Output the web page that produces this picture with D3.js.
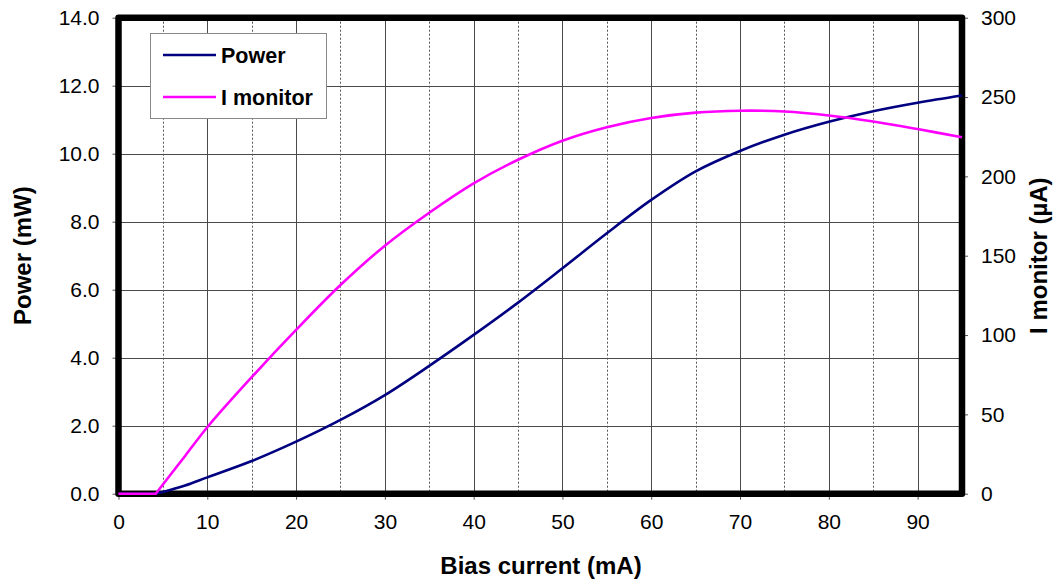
<!DOCTYPE html>
<html>
<head>
<meta charset="utf-8">
<script src="https://cdn.jsdelivr.net/npm/d3@7"></script>
<style>
  html, body { margin: 0; padding: 0; background: #fff; }
  svg { display: block; font-family: "Liberation Sans", Arial, Helvetica, sans-serif; }
</style>
</head>
<body>
<svg id="chart" width="1055" height="583"></svg>
<script>
// Bias current sweep (mA) with optical power (mW) and monitor photodiode current (µA)
const biasCurrent = [0, 4.2, 5, 7.5, 10, 15, 20, 25, 30, 35, 40, 45, 50, 55, 60, 65, 70, 75, 80, 85, 90, 95];
const power       = [0, 0, 0.05, 0.24, 0.48, 0.96, 1.53, 2.17, 2.90, 3.76, 4.67, 5.62, 6.63, 7.66, 8.64, 9.48, 10.08, 10.56, 10.94, 11.25, 11.50, 11.71];
const iMonitor    = [0, 0, 5.8, 23.8, 41.9, 73.4, 103.2, 131.5, 156.3, 177.1, 195.6, 210.5, 222.5, 231.0, 236.8, 240.2, 241.4, 240.9, 238.4, 234.6, 229.8, 224.6];
const thresholdIndex = 1; // output is zero up to the lasing threshold

const xTicks = [0, 10, 20, 30, 40, 50, 60, 70, 80, 90];
const xMinorTicks = [5, 15, 25, 35, 45, 55, 65, 75, 85];
const powerTicks = [0, 2, 4, 6, 8, 10, 12, 14];
const monitorTicks = [0, 50, 100, 150, 200, 250, 300];

const seriesNames = ["Power", "I monitor"];
const seriesColors = ["#000080", "#ff00ff"];

const svg = d3.select("#chart");
const plotLeft = 118.5, plotRight = 962, plotTop = 17.7, plotBottom = 493.7;

const x = d3.scaleLinear().domain([0, 95]).range([plotLeft, plotRight]);
const yP = d3.scaleLinear().domain([0, 14]).range([plotBottom, plotTop]);
const yI = d3.scaleLinear().domain([0, 300]).range([plotBottom, plotTop]);

// grid
const grid = svg.append("g");
grid.selectAll("line.h").data(powerTicks.slice(1, -1)).join("line")
  .attr("x1", plotLeft).attr("x2", plotRight)
  .attr("y1", d => Math.round(yP(d)) + 0.5).attr("y2", d => Math.round(yP(d)) + 0.5)
  .attr("stroke", "#4a4a4a").attr("stroke-width", 1);
grid.selectAll("line.v").data(xTicks.slice(1)).join("line")
  .attr("y1", plotTop).attr("y2", plotBottom)
  .attr("x1", d => Math.round(x(d)) + 0.5).attr("x2", d => Math.round(x(d)) + 0.5)
  .attr("stroke", "#4a4a4a").attr("stroke-width", 1);
grid.selectAll("line.vm").data(xMinorTicks).join("line")
  .attr("y1", plotTop).attr("y2", plotBottom)
  .attr("x1", d => Math.round(x(d)) + 0.5).attr("x2", d => Math.round(x(d)) + 0.5)
  .attr("stroke", "#555").attr("stroke-width", 1).attr("stroke-dasharray", "2,2");

// axes
const tickStyle = g => {
  g.select(".domain").remove();
  g.selectAll(".tick line").attr("stroke", "#555");
  g.selectAll(".tick text").attr("fill", "#000").attr("font-size", 21)
    .attr("font-family", "Liberation Sans, Arial, sans-serif");
};
svg.append("g").attr("transform", `translate(0,${plotBottom})`)
  .call(d3.axisBottom(x).tickValues(xTicks).tickFormat(d3.format("d")).tickSize(6).tickPadding(14))
  .call(tickStyle);
svg.append("g").attr("transform", `translate(${plotLeft},0)`)
  .call(d3.axisLeft(yP).tickValues(powerTicks).tickFormat(d3.format(".1f")).tickSize(6).tickPadding(13))
  .call(tickStyle);
svg.append("g").attr("transform", `translate(${plotRight},0)`)
  .call(d3.axisRight(yI).tickValues(monitorTicks).tickFormat(d3.format("d")).tickSize(6).tickPadding(13))
  .call(tickStyle);

// plot frame
svg.append("rect")
  .attr("x", plotLeft).attr("y", plotTop).attr("width", plotRight - plotLeft).attr("height", plotBottom - plotTop)
  .attr("fill", "none").attr("stroke", "#000").attr("stroke-width", 6.5).attr("stroke-linejoin", "round");

// series: straight run below threshold, smooth curve above it
function drawSeries(ys, yScale, color) {
  const pts = ys.map((v, i) => [x(biasCurrent[i]), yScale(v)]);
  const below = d3.line().curve(d3.curveLinear)(pts.slice(0, thresholdIndex + 1));
  const above = d3.line().curve(d3.curveCatmullRom.alpha(0.5))(pts.slice(thresholdIndex));
  svg.append("path").attr("d", below + above.replace(/^M[^LC]*/, ""))
    .attr("fill", "none").attr("stroke", color).attr("stroke-width", 2.6)
    .attr("stroke-linejoin", "round");
}
drawSeries(power, yP, seriesColors[0]);
drawSeries(iMonitor, yI, seriesColors[1]);

// axis titles
svg.append("text").attr("x", 541).attr("y", 574).attr("text-anchor", "middle")
  .attr("font-size", 24).attr("font-weight", "bold").text("Bias current (mA)");
svg.append("text").attr("transform", `translate(31,${(plotTop + plotBottom) / 2}) rotate(-90)`)
  .attr("text-anchor", "middle").attr("font-size", 24).attr("font-weight", "bold").text("Power (mW)");
svg.append("text").attr("transform", `translate(1047,${(plotTop + plotBottom) / 2}) rotate(-90)`)
  .attr("text-anchor", "middle").attr("font-size", 24).attr("font-weight", "bold").text("I monitor (µA)");

// legend
const legend = svg.append("g");
legend.append("rect").attr("x", 150.5).attr("y", 33.5).attr("width", 176).attr("height", 85)
  .attr("fill", "#fff").attr("stroke", "#888").attr("stroke-width", 1);
const rows = legend.selectAll("g.row").data(seriesNames).join("g")
  .attr("transform", (d, i) => `translate(0,${55 + i * 42})`);
rows.append("line").attr("x1", 163).attr("x2", 216).attr("y1", 0).attr("y2", 0)
  .attr("stroke", (d, i) => seriesColors[i]).attr("stroke-width", 2.6);
rows.append("text").attr("x", 221).attr("y", 7.5).attr("font-size", 21.5).attr("font-weight", "bold")
  .text(d => d);
</script>
</body>
</html>
